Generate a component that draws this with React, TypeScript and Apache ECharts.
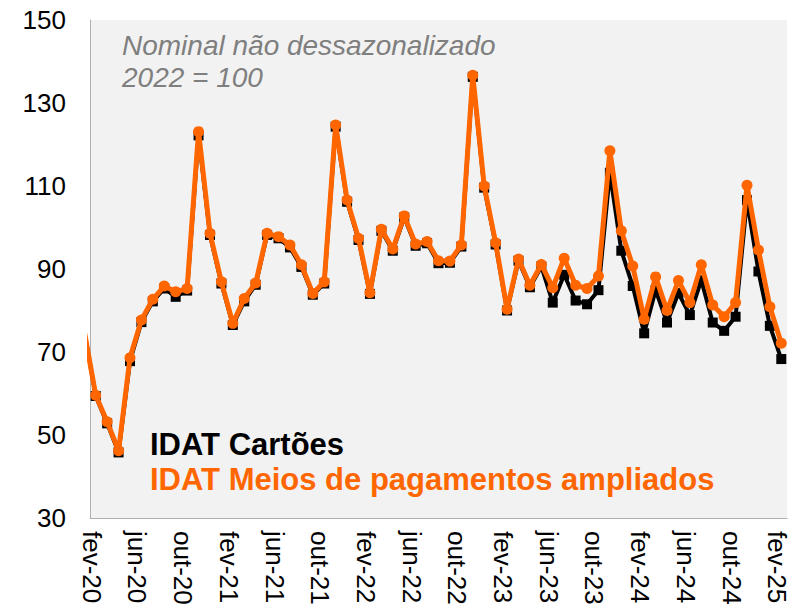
import React, { useEffect, useRef } from "react";
import * as echarts from "echarts";

// Month labels (jan-20 .. fev-25)
const monthNames = ["jan", "fev", "mar", "abr", "mai", "jun", "jul", "ago", "set", "out", "nov", "dez"];
const months: string[] = [];
for (let y = 20; y <= 25; y++) {
  for (let m = 0; m < 12; m++) {
    if (y === 25 && m > 1) break;
    months.push(`${monthNames[m]}-${y}`);
  }
}

// IDAT Cartões (black)
const cartoes = [
  75, 59.4, 52.8, 45.8, 67.8, 77.2, 82.2, 85.3, 83.3, 84.8, 122.2, 98.2,
  86.5, 76.5, 82.2, 86.2, 98.2, 97.4, 95.2, 90.5, 83.8, 86.5, 124.3, 106.2,
  97.0, 84.0, 99.2, 94.4, 102.4, 95.6, 96.2, 91.4, 91.5, 95.4, 136.3, 109.6,
  95.9, 80.0, 92.0, 85.6, 90.6, 81.9, 88.6, 82.4, 81.5, 84.9, 113.2, 94.4,
  85.9, 74.5, 84.9, 77.1, 84.2, 78.9, 87.3, 77.1, 75.1, 78.5, 106.6, 89.4,
  76.3, 68.3,
];

// IDAT Meios de pagamentos ampliados (orange)
const ampliados = [
  75, 59.6, 53.2, 46.2, 68.6, 77.7, 82.7, 85.9, 84.5, 85.3, 123.1, 98.6,
  86.9, 76.9, 82.9, 86.6, 98.6, 97.8, 95.8, 91.0, 84.1, 86.9, 124.7, 106.6,
  97.4, 84.3, 99.6, 94.8, 102.8, 96.0, 96.6, 92.0, 91.9, 95.8, 136.7, 110.0,
  96.3, 80.3, 92.4, 86.1, 91.1, 85.5, 92.6, 86.1, 85.3, 88.3, 118.5, 99.2,
  90.7, 77.9, 88.1, 80.0, 87.2, 81.9, 91.0, 81.3, 78.5, 81.9, 110.2, 94.6,
  80.9, 72.1,
];

// Tick labels shown on the x axis (every 4 months, from fev-20)
const xTickLabels = ["fev-20", "jun-20", "out-20", "fev-21", "jun-21", "out-21", "fev-22", "jun-22", "out-22", "fev-23", "jun-23", "out-23", "fev-24", "jun-24", "out-24", "fev-25"];
const yTicks = [30, 50, 70, 90, 110, 130, 150];

const FONT = "'Liberation Sans', Arial, sans-serif";

export default function App() {
  const ref = useRef<HTMLDivElement>(null);
  useEffect(() => {
    if (!ref.current) return;
    const chart = echarts.init(ref.current, undefined, { renderer: "svg" });
    const tickIdx = xTickLabels.map((l) => months.indexOf(l));
    const option: any = {
      animation: false,
      backgroundColor: "#ffffff",
      grid: {
        left: 90,
        right: 7,
        top: 20,
        bottom: 95,
        show: true,
        backgroundColor: "#f2f2f2",
        borderWidth: 0,
      },
      xAxis: {
        type: "value",
        min: 0.5,
        max: months.length - 0.5,
        axisLine: { show: true, lineStyle: { color: "#b0b0b0", width: 1 } },
        axisTick: { show: false },
        splitLine: { show: false },
        axisLabel: {
          customValues: tickIdx,
          rotate: -90,
          margin: 13,
          color: "#000",
          fontSize: 26,
          lineHeight: 8,
          verticalAlign: "top",
          fontFamily: FONT,
          formatter: (v: number) => {
            const i = Math.round(v);
            return tickIdx.includes(i) && Math.abs(v - i) < 1e-6 ? months[i] : "";
          },
        },
      },
      yAxis: {
        type: "value",
        min: yTicks[0],
        max: yTicks[yTicks.length - 1],
        interval: 20,
        axisLine: { show: true, lineStyle: { color: "#b0b0b0", width: 1 } },
        axisTick: { show: false },
        splitLine: { show: false },
        axisLabel: { color: "#000", fontSize: 26, fontFamily: FONT, margin: 24 },
      },
      series: [
        {
          name: "IDAT Cartões",
          type: "line",
          data: cartoes.map((v, i) => [i, v]),
          symbol: "rect",
          symbolSize: 10,
          itemStyle: { color: "#000" },
          lineStyle: { color: "#000", width: 4 },
          clip: true,
          z: 2,
        },
        {
          name: "IDAT Meios de pagamentos ampliados",
          type: "line",
          data: ampliados.map((v, i) => [i, v]),
          symbol: "circle",
          symbolSize: 11,
          itemStyle: { color: "#ff6600" },
          lineStyle: { color: "#ff6600", width: 5 },
          clip: true,
          z: 3,
        },
      ],
      graphic: [
        {
          type: "text",
          x: 122,
          y: 45,
          style: {
            text: "Nominal não dessazonalizado",
            fill: "#7f7f7f",
            fontSize: 28,
            fontStyle: "italic",
            fontFamily: FONT,
            verticalAlign: "middle",
          },
          z: 10,
        },
        {
          type: "text",
          x: 122,
          y: 77,
          style: {
            text: "2022 = 100",
            fill: "#7f7f7f",
            fontSize: 28,
            fontStyle: "italic",
            fontFamily: FONT,
            verticalAlign: "middle",
          },
          z: 10,
        },
        {
          type: "text",
          x: 150,
          y: 444,
          style: {
            text: "IDAT Cartões",
            fill: "#000",
            fontSize: 31,
            fontWeight: "bold",
            fontFamily: FONT,
            verticalAlign: "middle",
          },
          z: 10,
        },
        {
          type: "text",
          x: 150,
          y: 479,
          style: {
            text: "IDAT Meios de pagamentos ampliados",
            fill: "#ff6600",
            fontSize: 31,
            fontWeight: "bold",
            fontFamily: FONT,
            verticalAlign: "middle",
          },
          z: 10,
        },
      ],
    };
    chart.setOption(option);
    return () => chart.dispose();
  }, []);
  return <div ref={ref} style={{ width: 794, height: 613, position: "absolute", left: 0, top: 0 }} />;
}
